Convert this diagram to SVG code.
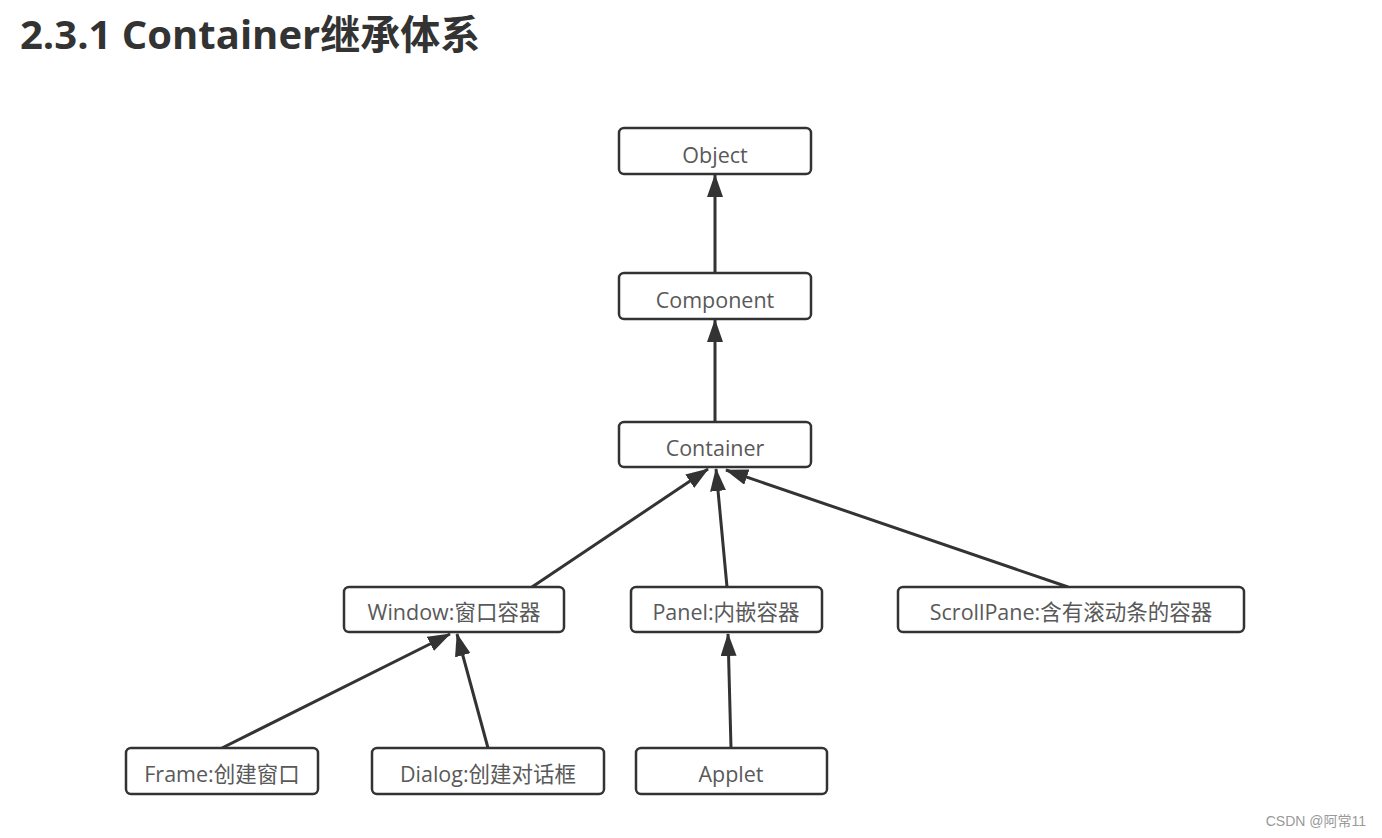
<svg xmlns="http://www.w3.org/2000/svg" width="1382" height="838" viewBox="0 0 1382 838">
<style>
.box{fill:#fff;stroke:#333;stroke-width:2.5}
.lbl{font-family:"Open Sans","Noto Sans CJK SC",sans-serif;font-size:21.5px;fill:#595959;text-anchor:middle;dominant-baseline:central}
.edge{stroke:#333;stroke-width:3;fill:none;marker-end:url(#arr)}
</style>
<defs>
<marker id="arr" markerUnits="userSpaceOnUse" markerWidth="24" markerHeight="16" refX="22" refY="8" orient="auto" viewBox="0 0 24 16">
<path d="M0,0 L23,8 L0,16 Z" fill="#333"/>
</marker>
</defs>
<rect width="1382" height="838" fill="#fff"/>
<text x="20" y="49" font-family="'Open Sans','Noto Sans CJK SC',sans-serif" font-size="40" font-weight="bold" fill="#333">2.3.1 Container继承体系</text>
<g id="connectors">
<line class="edge" x1="715" y1="273" x2="715" y2="175"/>
<line class="edge" x1="715" y1="422" x2="715" y2="320"/>
<line class="edge" x1="532" y1="587" x2="708" y2="469"/>
<line class="edge" x1="727" y1="587" x2="716" y2="469"/>
<line class="edge" x1="1068" y1="587" x2="726" y2="470"/>
<line class="edge" x1="222" y1="748" x2="450" y2="634"/>
<line class="edge" x1="488" y1="748" x2="457" y2="634"/>
<line class="edge" x1="731" y1="748" x2="728" y2="634"/>
</g>
<g id="object"><rect class="box" x="619" y="128" width="192" height="46" rx="5"/><text class="lbl" x="715" y="154">Object</text></g>
<g id="component"><rect class="box" x="619" y="273" width="192" height="46" rx="5"/><text class="lbl" x="715" y="299">Component</text></g>
<g id="container"><rect class="box" x="619" y="422" width="192" height="45" rx="5"/><text class="lbl" x="715" y="447">Container</text></g>
<g id="window"><rect class="box" x="344" y="587" width="220" height="45" rx="5"/><text class="lbl" x="454" y="611">Window:窗口容器</text></g>
<g id="panel"><rect class="box" x="631" y="587" width="191" height="45" rx="5"/><text class="lbl" x="726" y="611">Panel:内嵌容器</text></g>
<g id="scrollpane"><rect class="box" x="898" y="587" width="346" height="45" rx="5"/><text class="lbl" x="1071" y="611">ScrollPane:含有滚动条的容器</text></g>
<g id="frame"><rect class="box" x="126" y="748" width="192" height="46" rx="5"/><text class="lbl" x="222" y="773">Frame:创建窗口</text></g>
<g id="dialog"><rect class="box" x="372" y="748" width="232" height="46" rx="5"/><text class="lbl" x="488" y="773">Dialog:创建对话框</text></g>
<g id="applet"><rect class="box" x="636" y="748" width="191" height="46" rx="5"/><text class="lbl" x="731" y="773">Applet</text></g>
<text x="1366" y="826" text-anchor="end" font-family="'Liberation Sans','Noto Sans CJK SC',sans-serif" font-size="14" fill="#999">CSDN @阿常11</text>
</svg>
